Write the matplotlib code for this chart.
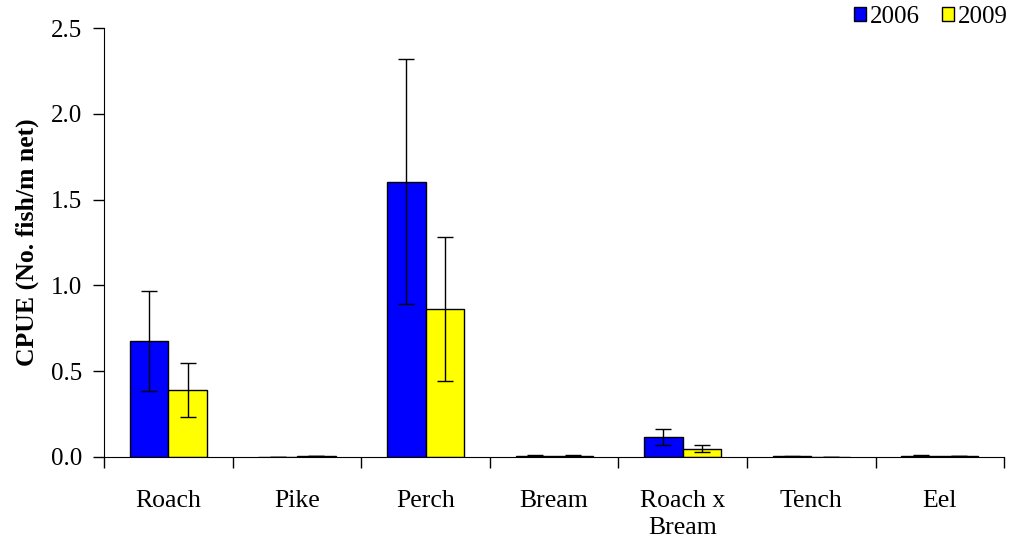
import numpy as np
import matplotlib.pyplot as plt

species = ["Roach", "Pike", "Perch", "Bream", "Roach x\nBream", "Tench", "Eel"]
cpue_2006 = [0.675, 0.002, 1.605, 0.006, 0.115, 0.003, 0.008]
err_2006 = [0.29, 0.0, 0.715, 0.005, 0.047, 0.002, 0.005]
cpue_2009 = [0.39, 0.006, 0.865, 0.006, 0.047, 0.001, 0.006]
err_2009 = [0.16, 0.002, 0.42, 0.005, 0.02, 0.0, 0.002]

plt.rcParams["font.family"] = ["Liberation Serif", "DejaVu Serif"]

fig = plt.figure(figsize=(10.12, 5.42), dpi=100)
ax = fig.add_axes([0.1028, 0.157, 0.8895, 0.791])

x = np.arange(len(species))
w = 0.3
ax.bar(x - w / 2, cpue_2006, w, color="#0000ff", edgecolor="black", linewidth=1,
       yerr=err_2006, capsize=6, error_kw={"elinewidth": 1, "capthick": 1}, label="2006")
ax.bar(x + w / 2, cpue_2009, w, color="#ffff00", edgecolor="black", linewidth=1,
       yerr=err_2009, capsize=6, error_kw={"elinewidth": 1, "capthick": 1}, label="2009")

ax.set_xlim(-0.5, len(species) - 0.5)
ax.set_ylim(0, 2.5)
ax.set_yticks(np.arange(0, 2.51, 0.5))
ax.set_yticklabels([f"{v:.1f}" for v in np.arange(0, 2.51, 0.5)], fontsize=18)
ax.set_xticks(x)
ax.set_xticklabels(species, fontsize=18.5, linespacing=1.3)
ax.tick_params(axis="x", length=0, pad=24)
ax.set_xticks(np.arange(-0.5, len(species)), minor=True)
ax.tick_params(axis="x", which="minor", length=8, width=1, direction="out")
ax.tick_params(axis="y", length=8, width=1, direction="out", pad=8)
ax.set_ylabel("CPUE (No. fish/m net)", fontsize=18.5, fontweight="bold", labelpad=8)

ax.spines["top"].set_visible(False)
ax.spines["right"].set_visible(False)

ax.legend(loc="upper right", bbox_to_anchor=(1.029, 1.105), ncol=2, frameon=False,
          fontsize=18, handlelength=0.48, handleheight=0.48, handletextpad=0.15,
          columnspacing=0.9)

fig.savefig("out.png", dpi=100)
